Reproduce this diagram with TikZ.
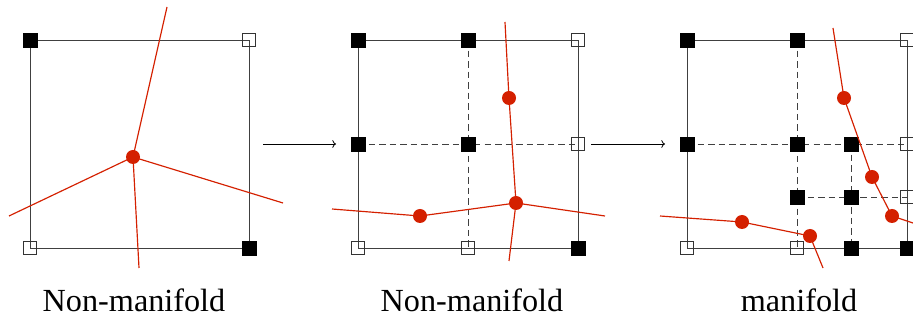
\documentclass[tikz,border=0pt]{standalone}
\usepackage{fontspec}
\setmainfont{Liberation Serif}
\usetikzlibrary{arrows.meta,backgrounds}
\definecolor{cutred}{HTML}{D42000}
\tikzset{
  solidcorner/.style={draw=black,fill=black,minimum size=0.41cm,inner sep=0pt},
  opencorner/.style={draw=black!80,line width=0.7pt,minimum size=0.41cm,inner sep=0pt},
  hit/.style={circle,fill=cutred,minimum size=0.42cm,inner sep=0pt},
  cut/.style={cutred,line width=1pt},
  cellline/.style={black!75,line width=0.7pt},
  split/.style={black!75,dash pattern=on 5.5pt off 3.5pt,line width=0.6pt},
  caption/.style={font=\fontsize{27.5}{32}\selectfont,anchor=base},
}

\begin{document}
\begin{tikzpicture}[x=0.03cm,y=-0.03cm]
  \useasboundingbox (0,0) rectangle (913,320);

  % first cell
  \node[solidcorner] (atl) at (30,40) {};
  \node[opencorner] (atr) at (249,40) {};
  \node[opencorner] (abl) at (30,248) {};
  \node[solidcorner] (abr) at (249,248) {};
  \begin{scope}[on background layer]
    \draw[cellline] (atl.center) -- (atr.center) -- (abr.center) -- (abl.center) -- cycle;
  \end{scope}
  \node[hit] (ah) at (133,157) {};
  \coordinate (an) at (167,7);
  \coordinate (aw) at (9,216);
  \coordinate (ae) at (283,203);
  \coordinate (as) at (139,268);
  \draw[cut] (an) -- (ah.center) -- (aw);
  \draw[cut] (ae) -- (ah.center) -- (as);
  \node[caption] (acap) at (134,312) {Non-manifold};

  \coordinate (arr1s) at (263,144);
  \coordinate (arr1e) at (336,144);
  \draw[->,line width=0.7pt] (arr1s) -- (arr1e);

  % second cell, split once
  \node[solidcorner] (btl) at (358,40) {};
  \node[solidcorner] (btm) at (468,40) {};
  \node[opencorner] (btr) at (578,40) {};
  \node[solidcorner] (bml) at (358,144) {};
  \node[solidcorner] (bmm) at (468,144) {};
  \node[opencorner] (bmr) at (578,144) {};
  \node[opencorner] (bbl) at (358,248) {};
  \node[opencorner] (bbm) at (468,248) {};
  \node[solidcorner] (bbr) at (578,248) {};
  \begin{scope}[on background layer]
    \draw[cellline] (btl.center) -- (btr.center) -- (bbr.center) -- (bbl.center) -- cycle;
    \draw[split] (btm.center) -- (bbm.center);
    \draw[split] (bml.center) -- (bmr.center);
  \end{scope}
  \node[hit] (bh1) at (509,98) {};
  \node[hit] (bh2) at (516,203) {};
  \node[hit] (bh3) at (420,216) {};
  \coordinate (bn) at (505,22);
  \coordinate (bs) at (509,261);
  \coordinate (bw) at (332,209);
  \coordinate (be) at (605,216);
  \draw[cut] (bn) -- (bh1.center) -- (bh2.center) -- (bs);
  \draw[cut] (bw) -- (bh3.center) -- (bh2.center) -- (be);
  \node[caption] (bcap) at (472,312) {Non-manifold};

  \coordinate (arr2s) at (591,144);
  \coordinate (arr2e) at (665,144);
  \draw[->,line width=0.7pt] (arr2s) -- (arr2e);

  % third cell, split twice
  \node[solidcorner] (ctl) at (687,40) {};
  \node[solidcorner] (ctm) at (797,40) {};
  \node[opencorner] (ctr) at (907,40) {};
  \node[solidcorner] (cml) at (687,144) {};
  \node[solidcorner] (cmm) at (797,144) {};
  \node[solidcorner] (cmq) at (851,144) {};
  \node[opencorner] (cmr) at (907,144) {};
  \node[solidcorner] (cqm) at (797,197) {};
  \node[solidcorner] (cqq) at (851,197) {};
  \node[opencorner] (cqr) at (907,197) {};
  \node[opencorner] (cbl) at (687,248) {};
  \node[opencorner] (cbm) at (797,248) {};
  \node[solidcorner] (cbq) at (851,248) {};
  \node[solidcorner] (cbr) at (907,248) {};
  \begin{scope}[on background layer]
    \draw[cellline] (ctl.center) -- (ctr.center) -- (cbr.center) -- (cbl.center) -- cycle;
    \draw[split] (ctm.center) -- (cbm.center);
    \draw[split] (cml.center) -- (cmr.center);
    \draw[split] (cmq.center) -- (cbq.center);
    \draw[split] (cqm.center) -- (cqr.center);
  \end{scope}
  \node[hit] (ch1) at (844,98) {};
  \node[hit] (ch2) at (872,177) {};
  \node[hit] (ch3) at (892,216) {};
  \node[hit] (ch4) at (742,222) {};
  \node[hit] (ch5) at (810,236) {};
  \coordinate (cn) at (833,28);
  \coordinate (ce) at (913,223);
  \coordinate (cw) at (660,216);
  \coordinate (cs) at (823,268);
  \draw[cut] (cn) -- (ch1.center) -- (ch2.center) -- (ch3.center) -- (ce);
  \draw[cut] (cw) -- (ch4.center) -- (ch5.center) -- (cs);
  \node[caption] (ccap) at (799,312) {manifold};
\end{tikzpicture}
\end{document}
